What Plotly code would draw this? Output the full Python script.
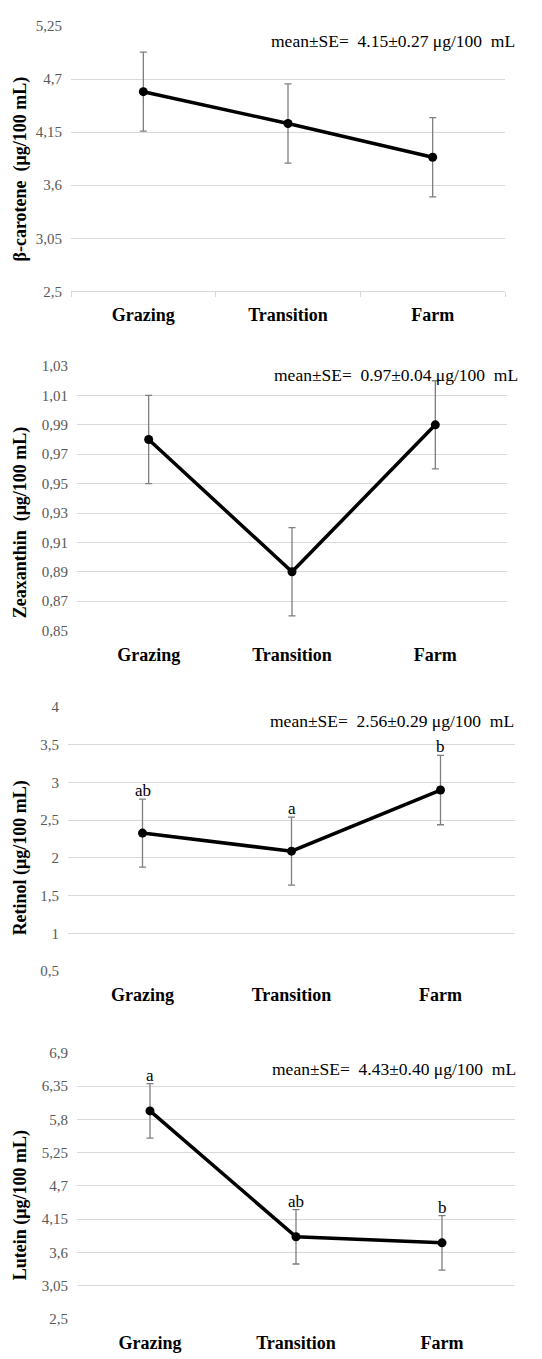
import plotly.graph_objects as go

W, H = 542, 1359

categories = ["Grazing", "Transition", "Farm"]

beta_carotene = [4.57, 4.24, 3.89]
beta_carotene_se = [0.41, 0.41, 0.41]
beta_ticks = [2.5, 3.05, 3.6, 4.15, 4.7, 5.25]
beta_ticktext = ["2,5", "3,05", "3,6", "4,15", "4,7", "5,25"]

zeaxanthin = [0.98, 0.89, 0.99]
zeaxanthin_se = [0.03, 0.03, 0.03]
zea_ticks = [0.85, 0.87, 0.89, 0.91, 0.93, 0.95, 0.97, 0.99, 1.01, 1.03]
zea_ticktext = ["0,85", "0,87", "0,89", "0,91", "0,93", "0,95", "0,97", "0,99", "1,01", "1,03"]

retinol = [2.33, 2.09, 2.90]
retinol_se = [0.45, 0.45, 0.46]
retinol_letters = ["ab", "a", "b"]
ret_ticks = [0.5, 1, 1.5, 2, 2.5, 3, 3.5, 4]
ret_ticktext = ["0,5", "1", "1,5", "2", "2,5", "3", "3,5", "4"]

lutein = [5.94, 3.86, 3.76]
lutein_se = [0.45, 0.45, 0.45]
lutein_letters = ["a", "ab", "b"]
lut_ticks = [2.5, 3.05, 3.6, 4.15, 4.7, 5.25, 5.8, 6.35, 6.9]
lut_ticktext = ["2,5", "3,05", "3,6", "4,15", "4,7", "5,25", "5,8", "6,35", "6,9"]

titles = ["β-carotene  (μg/100 mL)", "Zeaxanthin  (μg/100 mL)",
          "Retinol (μg/100 mL)", "Lutein (μg/100 mL)"]
summaries = ["mean±SE=\u00a0 4.15±0.27 μg/100\u00a0 mL",
             "mean±SE=\u00a0 0.97±0.04 μg/100\u00a0 mL",
             "mean±SE=\u00a0 2.56±0.29 μg/100\u00a0 mL",
             "mean±SE=\u00a0 4.43±0.40 μg/100\u00a0 mL"]

# layout geometry in pixels (left, right, top, bottom), title center y, summary (right x, center y)
panels = [
    dict(y=beta_carotene, e=beta_carotene_se, tv=beta_ticks, tt=beta_ticktext, letters=None,
         box=(71, 505, 18.3, 286.7), tcy=163, sx=517, sy=33, axisline=True),
    dict(y=zeaxanthin, e=zeaxanthin_se, tv=zea_ticks, tt=zea_ticktext, letters=None,
         box=(77, 507, 362.3, 630), tcy=521, sx=520, sy=371, axisline=False),
    dict(y=retinol, e=retinol_se, tv=ret_ticks, tt=ret_ticktext, letters=retinol_letters,
         box=(68, 515, 707.3, 974.7), tcy=860, sx=516, sy=722, axisline=False),
    dict(y=lutein, e=lutein_se, tv=lut_ticks, tt=lut_ticktext, letters=lutein_letters,
         box=(77, 515, 1057.3, 1326.7), tcy=1212, sx=518, sy=1074, axisline=False),
]

SERIF = "Liberation Serif"
GRID = "#d9d9d9"

fig = go.Figure()
annotations = []
for i, p in enumerate(panels, start=1):
    sfx = "" if i == 1 else str(i)
    l, r, t, b = p["box"]
    fig.add_trace(go.Scatter(
        x=categories, y=p["y"], mode="lines+markers",
        line=dict(color="black", width=3.5),
        marker=dict(color="black", size=9),
        error_y=dict(type="data", array=p["e"], visible=True,
                     color="#7f7f7f", thickness=1.3, width=3.5),
        xaxis="x" + sfx, yaxis="y" + sfx, showlegend=False, cliponaxis=False,
        hoverinfo="skip",
    ))
    fig.update_layout(**{
        "xaxis" + sfx: dict(
            domain=[l / W, r / W], anchor="y" + sfx, type="category",
            range=[-0.5, 2.5], showgrid=False, zeroline=False,
            showline=p["axisline"], linecolor=GRID, linewidth=1,
            ticks="outside" if p["axisline"] else "", tickson="boundaries",
            ticklen=5, tickcolor=GRID,
            tickfont=dict(family=SERIF, size=18, color="black", weight="bold"),
            ticklabelstandoff=7 if p["axisline"] else 11,
        ),
        "yaxis" + sfx: dict(
            domain=[1 - b / H, 1 - t / H], anchor="x" + sfx,
            range=[p["tv"][0], p["tv"][-1]], tickvals=p["tv"], ticktext=p["tt"],
            showgrid=True, gridcolor=GRID, gridwidth=1, zeroline=False,
            showline=False, ticks="",
            tickfont=dict(family=SERIF, size=15, color="#595959"),
            ticklabelstandoff=8,
        ),
    })
    annotations.append(dict(
        text="<b>" + titles[i - 1] + "</b>", xref="paper", yref="paper",
        x=20.5 / W, y=1 - p["tcy"] / H, textangle=-90, showarrow=False,
        xanchor="center", yanchor="middle",
        font=dict(family=SERIF, size=18, color="black"),
    ))
    annotations.append(dict(
        text=summaries[i - 1], xref="paper", yref="paper",
        x=p["sx"] / W, y=1 - p["sy"] / H, showarrow=False,
        xanchor="right", yanchor="middle",
        font=dict(family=SERIF, size=17.5, color="black"),
    ))
    if p["letters"]:
        for c, v, e, s in zip(categories, p["y"], p["e"], p["letters"]):
            annotations.append(dict(
                text=s, xref="x" + sfx, yref="y" + sfx, x=c, y=v + e,
                showarrow=False, xanchor="center", yanchor="bottom", yshift=-3,
                font=dict(family=SERIF, size=17, color="black"),
            ))

fig.update_layout(
    width=W, height=H, margin=dict(l=0, r=0, t=0, b=0),
    paper_bgcolor="white", plot_bgcolor="white",
    annotations=annotations, hovermode=False,
)

fig.write_html("out.html", config={"displayModeBar": False},
               post_script="document.body.style.margin='0';document.body.style.overflow='hidden';")
